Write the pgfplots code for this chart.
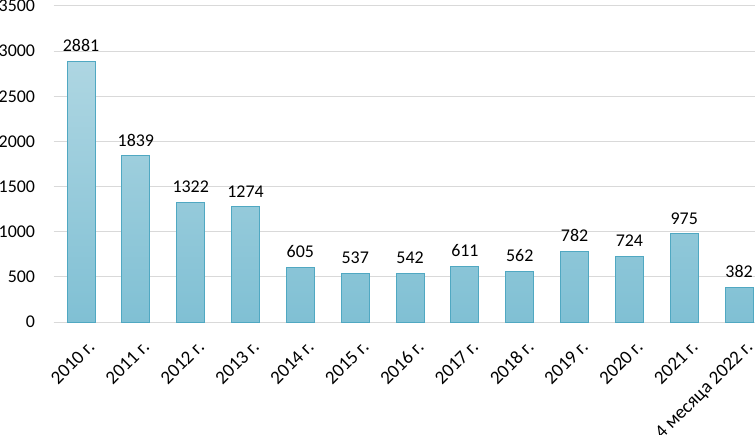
\documentclass[border=0pt]{standalone}
\usepackage{pgfplots}
\pgfplotsset{compat=1.18}
\usepackage{fontspec}
\setmainfont{Carlito}
\definecolor{bartop}{RGB}{174,214,226}
\definecolor{barbot}{RGB}{128,192,212}
\definecolor{barline}{RGB}{80,168,194}
\definecolor{gridc}{RGB}{217,217,217}
\begin{document}
\begin{tikzpicture}
\begin{axis}[
  at={(0,0)}, anchor=south west,
  scale only axis,
  width=701.4bp, height=316bp,
  xmin=-0.5, xmax=12.29,
  ymin=0, ymax=3500,
  ytick={0,500,...,3500},
  xtick={0,...,12},
  xticklabels={2010 г.,2011 г.,2012 г.,2013 г.,2014 г.,2015 г.,2016 г.,2017 г.,2018 г.,2019 г.,2020 г.,2021 г.,4 месяца 2022 г.},
  axis x line*=bottom, axis y line*=left,
  x axis line style={draw=gridc, line width=1bp},
  y axis line style={draw=none},
  ymajorgrids, grid style={gridc, line width=1bp},
  major tick length=0pt,
  tick label style={font=\fontsize{18}{20}\selectfont},
  /pgf/number format/assume math mode=true,
  yticklabel style={xshift=-15bp},
  xticklabel style={font=\fontsize{19}{21}\selectfont, xshift=6bp, yshift=-17bp, rotate=45, anchor=north east, inner sep=0pt},
  ybar, bar width=28bp,
  nodes near coords,
  nodes near coords style={font=\fontsize{18}{20}\selectfont, yshift=6bp},
  /pgf/number format/.cd, fixed, set thousands separator={},
]
\addplot[draw=barline, line width=1bp, top color=bartop, bottom color=barbot] coordinates {
(0,2881) (1,1839) (2,1322) (3,1274) (4,605) (5,537) (6,542) (7,611) (8,562) (9,782) (10,724) (11,975) (12,382)};
\end{axis}
\pgfresetboundingbox
\path[use as bounding box] (-53.6bp,-113bp) rectangle (701.4bp,322bp);
\end{tikzpicture}
\end{document}
